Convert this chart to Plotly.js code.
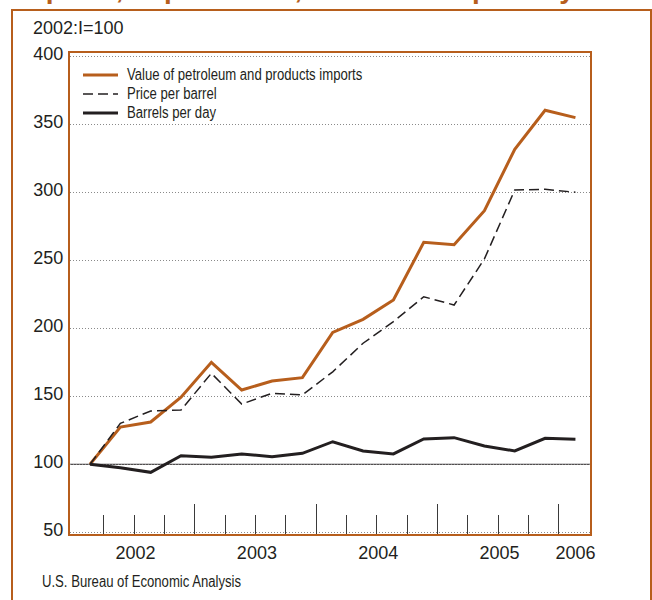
<!DOCTYPE html>
<html><head><meta charset="utf-8">
<script src="https://cdn.plot.ly/plotly-3.0.1.min.js"></script>
<style>html,body{margin:0;padding:0;background:#fff}#chart{width:652px;height:600px}</style>
</head><body><div id="chart"></div>
<script>
// ---- data ----
const quarters = ['2002 Q1','2002 Q2','2002 Q3','2002 Q4','2003 Q1','2003 Q2','2003 Q3','2003 Q4',
  '2004 Q1','2004 Q2','2004 Q3','2004 Q4','2005 Q1','2005 Q2','2005 Q3','2005 Q4','2006 Q1'];
const valueImports  = [100, 127.4, 131.1, 149.3, 175.0, 154.6, 161.2, 163.7, 197.0, 206.6, 220.8, 263.2, 261.5, 286.5, 331.6, 360.3, 354.9];
const pricePerBarrel = [100, 130.1, 139.2, 139.9, 166.9, 144.3, 152.2, 151.0, 168.0, 189.0, 204.9, 223.2, 217.1, 251.0, 301.7, 302.2, 300.0];
const barrelsPerDay  = [100, 97.4, 94.1, 106.3, 105.1, 107.6, 105.6, 108.1, 116.6, 109.8, 107.6, 118.6, 119.6, 113.5, 109.8, 119.1, 118.4];
const seriesNames = ['Value of petroleum and products imports', 'Price per barrel', 'Barrels per day'];
const yearLabels = ['2002', '2003', '2004', '2005', '2006'];
const yTickValues = [50, 100, 150, 200, 250, 300, 350, 400];
const yTickLabels = ['50', '100', '150', '200', '250', '300', '350', '400'];
const baseValue = 100;
const unitLabel = '2002:I=100';
const sourceText = 'U.S. Bureau of Economic Analysis';
const titleText = 'Imports, Import Price, and Barrels per Day';

// ---- styling ----
const ORANGE = '#B75E1C';
const INK = '#231F20';
const SANS = '"Liberation Sans", Arial, Helvetica, sans-serif';
const L = 70, R = 62, T = 53, B = 66;
const W = 652 - L - R, H = 600 - T - B;
const px2x = p => (p - L) / W;
const px2y = p => 1 - (p - T) / H;

const xIdx = quarters.map((q, i) => i);
const quarterBoundaries = quarters.slice(1).map((q, i) => i + 0.45);
const yearBoundaries = quarters.slice(1).map((q, i) => i + 0.45)
  .filter((b, i) => quarters[i].slice(0, 4) !== quarters[i + 1].slice(0, 4));
const yearPositions = yearLabels.map(y => {
  const ids = xIdx.filter(i => quarters[i].startsWith(y));
  return ids.reduce((a, b) => a + b, 0) / ids.length;
});
const XR = [-0.66, 16.48];
const YR = [48.75, 402.4];

const lbl = n => '<span style="font-size:16px">' + n + '</span>';

const traces = [
  {type: 'scatter', mode: 'lines', x: xIdx, y: valueImports, name: lbl(seriesNames[0]),
   line: {color: ORANGE, width: 3}},
  {type: 'scatter', mode: 'lines', x: xIdx, y: pricePerBarrel, name: lbl(seriesNames[1]),
   line: {color: INK, width: 1.5, dash: '10px,5px'}},
  {type: 'scatter', mode: 'lines', x: xIdx, y: barrelsPerDay, name: lbl(seriesNames[2]),
   line: {color: INK, width: 3}},
  {type: 'scatter', x: [], y: [], xaxis: 'x2', yaxis: 'y', showlegend: false, hoverinfo: 'skip'},
  {type: 'scatter', x: [], y: [], xaxis: 'x3', yaxis: 'y', showlegend: false, hoverinfo: 'skip'}
];

const layout = {
  width: 652, height: 600,
  margin: {l: L, r: R, t: T, b: B, pad: 0},
  paper_bgcolor: '#fff', plot_bgcolor: '#fff',
  font: {family: SANS, color: INK, size: 18},
  showlegend: true,
  legend: {x: px2x(78), y: px2y(60.5), xanchor: 'left', yanchor: 'top',
    bgcolor: 'rgba(0,0,0,0)', borderwidth: 0, itemwidth: 35,
    font: {family: SANS, size: 12, color: INK}},
  xaxis: {range: XR, tickmode: 'array', tickvals: quarterBoundaries, ticks: 'inside', ticklen: 19,
    tickwidth: 1, tickcolor: '#3a3a3a', showticklabels: false, showgrid: false, zeroline: false,
    showline: true, mirror: true, linecolor: ORANGE, linewidth: 2, fixedrange: true},
  xaxis2: {overlaying: 'x', anchor: 'y', side: 'bottom', range: XR, tickmode: 'array',
    tickvals: yearBoundaries, ticks: 'inside', ticklen: 30, tickwidth: 1, tickcolor: '#3a3a3a',
    showticklabels: false, showgrid: false, zeroline: false, showline: false, fixedrange: true},
  xaxis3: {overlaying: 'x', anchor: 'y', side: 'bottom', range: XR, tickmode: 'array',
    tickvals: yearPositions, ticktext: yearLabels, ticks: '', showgrid: false, zeroline: false,
    showline: false, tickfont: {family: SANS, size: 18, color: INK}, ticklabelstandoff: 6, fixedrange: true},
  yaxis: {range: YR, tickmode: 'array', tickvals: yTickValues, ticktext: yTickLabels, ticks: '',
    showgrid: true, gridcolor: '#8a8a8a', gridwidth: 1, griddash: '1px,2px', zeroline: false,
    showline: true, mirror: true, linecolor: ORANGE, linewidth: 2,
    tickfont: {family: SANS, size: 18, color: INK}, ticklabelstandoff: 1, ticklabelshift: -3, fixedrange: true},
  shapes: [
    {type: 'line', xref: 'paper', yref: 'y', x0: 0, x1: 1, y0: baseValue, y1: baseValue,
     line: {color: INK, width: 1}, layer: 'between'},
    {type: 'rect', xref: 'paper', yref: 'paper', x0: px2x(12), x1: px2x(651), y0: px2y(640), y1: px2y(10),
     line: {color: ORANGE, width: 2}, fillcolor: 'rgba(0,0,0,0)', layer: 'above'}
  ],
  annotations: [
    {text: unitLabel, xref: 'paper', yref: 'paper', x: px2x(31), y: px2y(28), xanchor: 'left', yanchor: 'middle',
     showarrow: false, font: {family: SANS, size: 18, color: INK}},
    {text: sourceText, xref: 'paper', yref: 'paper', x: px2x(40), y: px2y(581), xanchor: 'left', yanchor: 'middle',
     showarrow: false, font: {family: SANS, size: 16, color: INK}},
    {text: '<b>' + titleText + '</b>', xref: 'paper', yref: 'paper', x: px2x(11), y: px2y(6.2),
     xanchor: 'left', yanchor: 'bottom', showarrow: false, font: {family: SANS, size: 28, color: ORANGE}}
  ]
};

Plotly.newPlot('chart', traces, layout, {displayModeBar: false, staticPlot: true}).then(() => {
  document.querySelectorAll('#chart .legend text.legendtext').forEach(t => {
    const w = t.getComputedTextLength();
    t.setAttribute('textLength', (w * 0.82).toFixed(1));
    t.setAttribute('lengthAdjust', 'spacingAndGlyphs');
    t.setAttribute('x', (parseFloat(t.getAttribute('x') || 0) + 4).toString());
  });
  document.querySelectorAll('#chart .annotation-text').forEach(t => {
    if (t.textContent === sourceText) {
      const w = t.getComputedTextLength();
      const x0 = parseFloat(t.getAttribute('x') || 0);
      t.setAttribute('textLength', (w * 0.82).toFixed(1));
      t.setAttribute('lengthAdjust', 'spacingAndGlyphs');
      t.setAttribute('text-anchor', 'start');
      t.setAttribute('x', (x0 - w / 2).toString());
    }
  });
});
</script>
</body></html>
